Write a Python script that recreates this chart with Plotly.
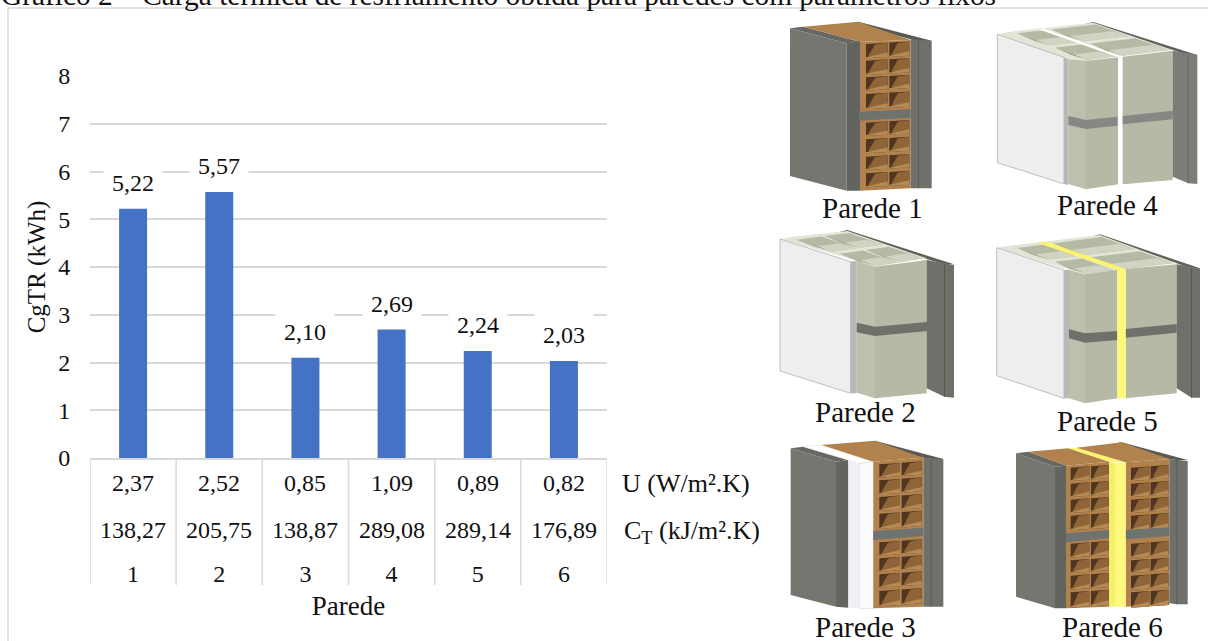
import plotly.graph_objects as go

W, H = 1208, 641
FONT = "Liberation Serif"

# ---- data ----
paredes = [1, 2, 3, 4, 5, 6]
cgtr = [5.22, 5.57, 2.10, 2.69, 2.24, 2.03]
cgtr_txt = ["5,22", "5,57", "2,10", "2,69", "2,24", "2,03"]
u_txt = ["2,37", "2,52", "0,85", "1,09", "0,89", "0,82"]
ct_txt = ["138,27", "205,75", "138,87", "289,08", "289,14", "176,89"]
y_ticks = [0, 1, 2, 3, 4, 5, 6, 7, 8]

TITLE = "Gráfico 2 – Carga térmica de resfriamento obtida para paredes com parâmetros fixos"

def px(x):
    return x / W

def py(y):
    return 1 - y / H

shapes = []
ZONES = {"A": (760, 0), "B": (760, 225), "C": (760, 435)}

def poly(zone, pts, fill, line=None, lw=1):
    ox, oy = ZONES[zone]
    path = "M " + " L ".join(f"{px(ox + x / 3):.5f},{py(oy + y / 3):.5f}" for x, y in pts) + " Z"
    shapes.append(dict(type="path", path=path, xref="paper", yref="paper", fillcolor=fill,
                       line=dict(color=line or "rgba(0,0,0,0)", width=lw if line else 0)))

def bil(q, u, v):
    A, B, C, D = q
    return tuple((1 - v) * ((1 - u) * A[i] + u * B[i]) + v * ((1 - u) * D[i] + u * C[i]) for i in (0, 1))

def hollows(zone, q, u0, u1, nv):
    dv = 1 / nv
    for j in range(nv):
        v0 = j * dv + 0.06
        v1 = (j + 1) * dv - 0.02
        a, b, c, d = bil(q, u0, v0), bil(q, u1, v0), bil(q, u1, v1), bil(q, u0, v1)
        poly(zone, [a, b, c, d], "#b5baa5")
        e = ((a[0] + d[0]) / 2, (a[1] + d[1]) / 2 + 3)
        f = ((b[0] + c[0]) / 2, (b[1] + c[1]) / 2 + 3)
        poly(zone, [e, f, c, d], "#d0d4c2")
        poly(zone, [a, e, d], "#8f9482")

def brick_cells(zone, x0, x1, slope, rows, cols):
    for (ca, cb) in cols:
        for (r0, r1) in rows:
            s0 = (ca - x0) * slope
            s1 = (cb - x0) * slope
            a, b = (ca, r0 + s0), (cb, r0 + s1)
            c, d = (cb, r1 + s1), (ca, r1 + s0)
            poly(zone, [a, b, c, d], "#4e3620")
            m = ca + (cb - ca) * 0.42
            sm = (m - x0) * slope
            poly(zone, [(m, r0 + sm + 3), b, c, (ca + 6, r1 + s0 - 6)], "#8f6538")
            h = (r1 - r0) * 0.78
            poly(zone, [(ca, r0 + s0 + h + 6), (cb, r0 + s1 + h - 4), c, d], "#b58a55")

GREY, GREY2, GREY3 = "#74776f", "#62655f", "#6e7069"
BROWN = "#b2824e"
BLOCK1, BLOCK2 = "#bcc0ad", "#b5b9a6"
BAND = "#6e716a"

# ---- Parede 1 ----
poly("A", [(295, 65), (515, 122), (475, 125), (452, 118), (270, 70)], "#575a55")
poly("A", [(90, 85), (130, 80), (300, 125), (260, 130)], "#666963")
poly("A", [(130, 80), (295, 65), (452, 120), (300, 125)], BROWN)
poly("A", [(90, 85), (260, 130), (260, 572), (90, 528)], GREY)
poly("A", [(260, 130), (300, 124), (300, 572), (260, 572)], GREY2)
poly("A", [(300, 125), (452, 120), (452, 565), (300, 572)], BROWN)
brick_cells("A", 318, 448, -0.06,
            [(132, 175), (182, 225), (232, 272), (282, 328), (368, 408), (418, 460), (470, 510), (520, 562)],
            [(318, 383), (388, 448)])
poly("A", [(297, 335), (452, 328), (452, 353), (297, 362)], "#6f7370")
poly("A", [(452, 118), (515, 122), (515, 565), (452, 565)], GREY3)
poly("A", [(474, 122), (477, 122), (477, 565), (474, 565)], "#5a5d58")

# ---- Parede 4 ----
q4 = [(750, 95), (1000, 68), (1238, 150), (978, 182)]
poly("A", [(1000, 66), (1312, 165), (1285, 165), (1238, 150), (975, 72)], "#5f615c")
poly("A", [(712, 103), (750, 95), (1000, 68), (1238, 150), (978, 182), (925, 178)], "#e2e5d6")
hollows("A", q4, 0.03, 0.35, 2)
hollows("A", q4, 0.44, 0.97, 2)
poly("A", [(835, 88), (852, 86), (1088, 170), (1075, 172)], "#ffffff")
poly("A", [(712, 103), (912, 172), (912, 552), (712, 488)], "#eeeeee", "#9a9a9a", 0.6)
poly("A", [(912, 172), (925, 178), (925, 555), (912, 552)], "#b7b9b8")
poly("A", [(925, 178), (978, 182), (978, 568), (925, 552)], BLOCK1)
poly("A", [(978, 182), (1075, 172), (1075, 553), (978, 568)], BLOCK2)
poly("A", [(1075, 172), (1088, 170), (1088, 553), (1075, 553)], "#ffffff")
poly("A", [(1088, 170), (1238, 152), (1238, 540), (1088, 553)], BLOCK2)
poly("A", [(925, 348), (978, 360), (978, 387), (925, 375)], "#858885")
poly("A", [(978, 360), (1072, 350), (1072, 377), (978, 387)], "#858885")
poly("A", [(1088, 348), (1238, 332), (1238, 358), (1088, 373)], "#858885")
poly("A", [(1238, 152), (1312, 165), (1312, 552), (1285, 550), (1238, 530)], "#7b7d79")
poly("A", [(1283, 165), (1286, 165), (1286, 550), (1283, 550)], "#666864")

# ---- Parede 2 ----
q2 = [(85, 40), (262, 18), (500, 100), (345, 125)]
poly("B", [(262, 15), (582, 118), (553, 118), (500, 102), (240, 20)], "#5f615a")
poly("B", [(60, 42), (100, 35), (262, 18), (500, 100), (345, 125), (290, 107)], "#e2e5d6")
hollows("B", q2, 0.05, 0.47, 2)
hollows("B", q2, 0.53, 0.95, 2)
poly("B", [(60, 42), (272, 110), (272, 505), (60, 438)], "#eeeeee", "#9a9a9a", 0.6)
poly("B", [(272, 110), (290, 107), (290, 505), (272, 505)], "#b7b8ba")
poly("B", [(290, 107), (345, 125), (345, 520), (290, 503)], BLOCK1)
poly("B", [(345, 125), (500, 105), (500, 505), (345, 520)], BLOCK2)
poly("B", [(290, 293), (345, 305), (345, 333), (290, 322)], BAND)
poly("B", [(345, 305), (503, 291), (503, 318), (345, 333)], BAND)
poly("B", [(500, 105), (582, 120), (582, 518), (553, 515), (500, 490)], GREY3)
poly("B", [(552, 118), (555, 118), (555, 516), (552, 516)], "#565852")

# ---- Parede 5 ----
q5 = [(750, 65), (1020, 30), (1250, 115), (975, 148)]
poly("B", [(1020, 28), (1320, 130), (1295, 130), (1250, 115), (995, 35)], "#5f615a")
poly("B", [(710, 68), (750, 62), (1020, 30), (1250, 115), (975, 148), (927, 135)], "#e2e5d6")
hollows("B", q5, 0.03, 0.33, 2)
hollows("B", q5, 0.43, 0.97, 2)
poly("B", [(830, 53), (860, 50), (1097, 132), (1072, 135)], "#fbf46c")
poly("B", [(710, 68), (912, 135), (912, 520), (710, 452)], "#eeeeee", "#9a9a9a", 0.6)
poly("B", [(912, 135), (927, 135), (927, 520), (912, 520)], "#b7b8ba")
poly("B", [(927, 135), (975, 148), (975, 535), (927, 520)], BLOCK1)
poly("B", [(975, 148), (1072, 135), (1072, 520), (975, 535)], BLOCK2)
poly("B", [(1097, 132), (1250, 118), (1250, 505), (1097, 520)], BLOCK2)
poly("B", [(927, 313), (975, 325), (975, 353), (927, 340)], BAND)
poly("B", [(975, 325), (1072, 318), (1072, 345), (975, 353)], BAND)
poly("B", [(1097, 312), (1250, 297), (1250, 323), (1097, 338)], BAND)
poly("B", [(1072, 135), (1097, 132), (1097, 520), (1072, 520)], "#fdf877")
poly("B", [(1250, 118), (1320, 130), (1320, 518), (1295, 518), (1250, 490)], GREY3)
poly("B", [(1293, 130), (1296, 130), (1296, 518), (1293, 518)], "#565852")

# ---- Parede 3 ----
poly("C", [(345, 17), (550, 72), (515, 72), (490, 68), (320, 22)], "#575a55")
poly("C", [(92, 40), (130, 35), (265, 75), (228, 80)], "#666963")
poly("C", [(130, 35), (185, 30), (340, 80), (298, 85)], "#ffffff", "#dddddd", 0.5)
poly("C", [(185, 30), (345, 17), (490, 68), (340, 80)], BROWN)
poly("C", [(92, 40), (228, 80), (228, 515), (92, 480)], GREY)
poly("C", [(228, 80), (265, 75), (265, 518), (228, 515)], GREY2)
poly("C", [(265, 75), (298, 85), (298, 520), (265, 518)], "#f1f1f5")
poly("C", [(298, 85), (340, 80), (340, 520), (298, 520)], "#fbfbfb", "#cccccc", 0.5)
poly("C", [(340, 80), (490, 68), (490, 515), (340, 520)], BROWN)
brick_cells("C", 358, 485, -0.07,
            [(88, 128), (136, 178), (186, 228), (236, 282), (322, 362), (370, 410), (418, 458), (468, 514)],
            [(358, 420), (425, 485)])
poly("C", [(340, 288), (490, 278), (490, 303), (340, 315)], "#6f7370")
poly("C", [(490, 68), (550, 72), (550, 515), (490, 515)], GREY3)
poly("C", [(512, 72), (515, 72), (515, 515), (512, 515)], "#5a5d58")

# ---- Parede 6 ----
poly("C", [(1085, 22), (1283, 75), (1250, 75), (1228, 72), (1060, 26)], "#575a55")
poly("C", [(768, 55), (805, 50), (920, 92), (885, 95)], "#666963")
poly("C", [(805, 50), (925, 40), (1048, 80), (918, 92)], BROWN)
poly("C", [(925, 40), (950, 38), (1097, 82), (1048, 80)], "#fbf46c")
poly("C", [(950, 38), (1085, 22), (1228, 72), (1097, 82)], BROWN)
poly("C", [(768, 55), (885, 95), (885, 520), (768, 485)], GREY)
poly("C", [(885, 95), (918, 92), (918, 520), (885, 520)], GREY2)
poly("C", [(918, 92), (1048, 80), (1048, 515), (918, 520)], BROWN)
poly("C", [(1097, 82), (1228, 72), (1228, 510), (1097, 515)], BROWN)
rows6 = [(98, 138), (146, 186), (194, 234), (242, 286), (326, 368), (376, 414), (422, 464), (472, 518)]
brick_cells("C", 932, 1046, -0.07, rows6, [(932, 988), (993, 1046)])
brick_cells("C", 1113, 1225, -0.07, rows6, [(1113, 1168), (1172, 1225)])
poly("C", [(918, 295), (1048, 285), (1048, 310), (918, 322)], "#6f7370")
poly("C", [(1097, 285), (1228, 277), (1228, 303), (1097, 313)], "#6f7370")
poly("C", [(1048, 80), (1065, 85), (1065, 515), (1048, 515)], "#f6ef68")
poly("C", [(1065, 85), (1097, 82), (1097, 515), (1065, 515)], "#fdf97e")
poly("C", [(1228, 72), (1283, 78), (1283, 508), (1250, 508), (1228, 505)], GREY3)
poly("C", [(1249, 75), (1252, 75), (1252, 508), (1249, 508)], "#5a5d58")

# chart frame
for x0, y0, x1, y1 in [(8, 8, W, 8), (8, 8, 8, H)]:
    shapes.append(dict(type="line", xref="paper", yref="paper", x0=px(x0), y0=py(y0), x1=px(x1), y1=py(y1),
                       line=dict(color="#d9d9d9", width=1.5)))

# table dividers under the axis
for i in range(7):
    shapes.append(dict(type="line", xref="x", yref="paper", x0=0.5 + i, x1=0.5 + i, y0=py(458), y1=py(585),
                       line=dict(color="#d9d9d9", width=1.5)))

fig = go.Figure()
fig.add_bar(x=paredes, y=cgtr, width=0.325, marker=dict(color="#4472c4", line=dict(width=0)),
            hoverinfo="skip")

ann = []
def note(text, x, y, xref="paper", yref="paper", size=24, **kw):
    ann.append(dict(text=text, x=x, y=y, xref=xref, yref=yref, showarrow=False,
                    font=dict(family=FONT, size=size, color="#111111"), **kw))

for p, v, t in zip(paredes, cgtr, cgtr_txt):
    note(t, p, v, xref="x", yref="y", yshift=26, xanchor="center", yanchor="middle",
         bgcolor="#ffffff", borderpad=8)
for p, a, b in zip(paredes, u_txt, ct_txt):
    note(a, p, py(483), xref="x", xanchor="center", yanchor="middle")
    note(b, p, py(530), xref="x", xanchor="center", yanchor="middle")

note("U (W/m².K)", px(620), py(483), xanchor="left", yanchor="middle", size=26)
note("C<sub>T</sub> (kJ/m².K)", px(622), py(532), xanchor="left", yanchor="middle", size=26)
note(TITLE, px(0), py(12), xanchor="left", yanchor="bottom", size=29.4, borderpad=0)

for t, cx, cy in [("Parede 1", 872, 208), ("Parede 4", 1107, 205), ("Parede 2", 865, 412),
                  ("Parede 5", 1107, 421), ("Parede 3", 865, 627), ("Parede 6", 1112, 627)]:
    note(t, px(cx), py(cy), xanchor="center", yanchor="middle", size=29)

fig.update_layout(
    template=None,
    width=W, height=H, autosize=False, margin=dict(l=0, r=0, t=0, b=0, pad=0),
    paper_bgcolor="#ffffff", plot_bgcolor="#ffffff", showlegend=False,
    shapes=shapes, annotations=ann,
    font=dict(family=FONT, size=24, color="#111111"),
    xaxis=dict(domain=[px(90), px(607)], range=[0.5, 6.5], tickmode="array", tickvals=paredes,
               ticktext=[str(p) for p in paredes], ticks="outside", ticklen=93,
               tickcolor="rgba(0,0,0,0)", showgrid=False, zeroline=False, automargin=False,
               showline=True, linecolor="#d9d9d9", linewidth=1.5,
               title=dict(text="Parede", standoff=11, font=dict(family=FONT, size=27))),
    yaxis=dict(domain=[py(458), py(76)], range=[0, 8], tickmode="array", tickvals=y_ticks,
               ticks="outside", ticklen=14, tickcolor="rgba(0,0,0,0)", automargin=False,
               showgrid=True, gridcolor="#d9d9d9", gridwidth=1.5, zeroline=False, showline=False,
               title=dict(text="CgTR (kWh)", standoff=5, font=dict(family=FONT, size=25))),
)

fig.write_html("out.html", post_script="document.body.style.margin='0';document.body.style.overflow='hidden';",
               config=dict(displayModeBar=False))
